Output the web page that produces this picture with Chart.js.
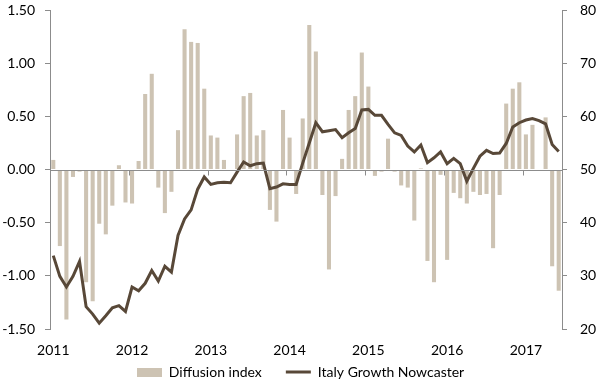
<!DOCTYPE html>
<html>
<head>
<meta charset="utf-8">
<script src="https://cdn.jsdelivr.net/npm/chart.js"></script>
<style>
    html, body { margin: 0; padding: 0; background: #fff; }
    #wrap { width: 601px; height: 384px; }
</style>
</head>
<body>
<div id="wrap"><canvas id="nowcastChart" width="601" height="384"></canvas></div>
<script>
// Monthly data, Jan 2011 - Jun 2017
const years = ["2011", "2012", "2013", "2014", "2015", "2016", "2017"];
const monthsInLastYear = 6;

const diffusionIndex = [
    0.09, -0.72, -1.41, -0.07, -0.02, -1.06, -1.24, -0.51, -0.61, -0.34, 0.04, -0.31,
    -0.32, 0.08, 0.71, 0.90, -0.17, -0.41, -0.21, 0.37, 1.32, 1.20, 1.19, 0.76,
    0.32, 0.30, 0.09, 0, 0.33, 0.69, 0.72, 0.32, 0.37, -0.38, -0.49, 0.56,
    0.30, -0.23, 0.48, 1.36, 1.11, -0.24, -0.94, -0.25, 0.10, 0.56, 0.69, 1.10,
    0.78, -0.06, -0.02, 0.29, -0.02, -0.15, -0.17, -0.48, 0.01, -0.86, -1.06, -0.05,
    -0.85, -0.22, -0.27, -0.32, -0.21, -0.24, -0.23, -0.74, -0.24, 0.62, 0.76, 0.82,
    0.33, 0.42, 0, 0.49, -0.91, -1.14,
];

const nowcaster = [
    33.8, 29.9, 27.9, 29.9, 32.7, 24.2, 22.8, 21.1, 22.5, 24.0, 24.4, 23.3,
    27.9, 27.2, 28.6, 31.0, 29.0, 31.8, 30.7, 37.6, 40.7, 42.4, 46.3, 48.6,
    47.2, 47.5, 47.6, 47.5, 49.5, 51.4, 50.7, 51.1, 51.2, 46.4, 46.7, 47.3,
    47.2, 47.2, 51.2, 55.0, 58.8, 57.1, 57.3, 57.5, 56.0, 56.9, 57.7, 61.2,
    61.3, 60.2, 60.2, 58.5, 56.9, 56.4, 54.4, 53.3, 54.6, 51.3, 52.2, 53.3,
    51.1, 52.1, 51.1, 47.8, 50.2, 52.5, 53.6, 53.0, 53.1, 54.9, 58.0, 58.8,
    59.3, 59.6, 59.2, 58.6, 54.7, 53.4,
];

const leftTicks = [-1.5, -1.0, -0.5, 0, 0.5, 1.0, 1.5];
const rightTicks = [20, 30, 40, 50, 60, 70, 80];

// one category per month, label shown only on January
const categories = [];
years.forEach((y, yi) => {
    const n = yi === years.length - 1 ? monthsInLastYear : 12;
    for (let m = 1; m <= n; m++) categories.push(y + "-" + m);
});

const barColor = "#cdc3b3";
const lineColor = "#584838";
const axisColor = "#8c8c8c";

// legend swatch for the bars
const swatch = document.createElement("canvas");
swatch.width = 25;
swatch.height = 9;
const sctx = swatch.getContext("2d");
sctx.fillStyle = barColor;
sctx.fillRect(0, 0, 25, 9);

// zero line and year tick marks on it
const zeroAxis = {
    id: "zeroAxis",
    afterDatasetsDraw(chart) {
        const { ctx, chartArea, scales } = chart;
        const y0 = Math.round(scales.y.getPixelForValue(0)) + 0.5;
        ctx.save();
        ctx.strokeStyle = axisColor;
        ctx.lineWidth = 1;
        ctx.beginPath();
        ctx.moveTo(chartArea.left, y0);
        ctx.lineTo(chartArea.right, y0);
        for (let i = 12; i < categories.length; i += 12) {
            const x = Math.round((scales.x.getPixelForValue(i - 1) + scales.x.getPixelForValue(i)) / 2) + 0.5;
            ctx.moveTo(x, y0);
            ctx.lineTo(x, y0 + 5);
        }
        ctx.stroke();
        ctx.restore();
    },
};

// fixed axis sizes so the plot area matches the original
function fixWidth(w) {
    return (s) => {
        s.width = w;
        s.paddingTop = 0;
        s.paddingBottom = 0;
    };
}

Chart.defaults.font.family = "Lato, 'Open Sans', sans-serif";
Chart.defaults.font.size = 14;
Chart.defaults.color = "#000";

const ctx = document.getElementById("nowcastChart").getContext("2d");
new Chart(ctx, {
    type: "bar",
    data: {
        labels: categories,
        datasets: [
            {
                type: "line",
                label: "Italy Growth Nowcaster",
                data: nowcaster,
                yAxisID: "y1",
                borderColor: lineColor,
                borderWidth: 3,
                pointRadius: 0,
                tension: 0,
                order: 0,
            },
            {
                type: "bar",
                label: "Diffusion index",
                data: diffusionIndex,
                yAxisID: "y",
                backgroundColor: barColor,
                categoryPercentage: 1,
                barPercentage: 0.62,
                order: 1,
            },
        ],
    },
    plugins: [zeroAxis],
    options: {
        responsive: false,
        animation: false,
        layout: { padding: { left: 0, right: 0, top: 10, bottom: -5 } },
        plugins: {
            tooltip: { enabled: false },
            legend: {
                position: "bottom",
                labels: {
                    usePointStyle: true,
                    pointStyleWidth: 25,
                    padding: 24,
                    generateLabels: () => [
                        { text: "Diffusion index", pointStyle: swatch, fillStyle: barColor, strokeStyle: barColor, lineWidth: 0, datasetIndex: 1 },
                        { text: "Italy Growth Nowcaster", pointStyle: "line", fillStyle: lineColor, strokeStyle: lineColor, lineWidth: 3, datasetIndex: 0 },
                    ],
                },
            },
        },
        scales: {
            x: {
                type: "category",
                position: "bottom",
                grid: { display: false, drawTicks: false },
                border: { display: false },
                ticks: {
                    autoSkip: false,
                    maxRotation: 0,
                    mirror: true, // labels are not clipped to the thin axis box
                    padding: -30,
                    callback: (v, i) => (i % 12 === 0 ? categories[i].split("-")[0] : ""),
                },
                afterFit: (s) => { s.height = 12; },
            },
            y: {
                type: "linear",
                position: "left",
                min: leftTicks[0],
                max: leftTicks[leftTicks.length - 1],
                afterBuildTicks: (s) => { s.ticks = leftTicks.map((v) => ({ value: v })); },
                grid: { drawOnChartArea: false, drawTicks: true, tickLength: 5, color: axisColor },
                border: { display: true, color: axisColor },
                ticks: { padding: 10, callback: (v) => v.toFixed(2) },
                afterFit: fixWidth(50),
            },
            y1: {
                type: "linear",
                position: "right",
                min: rightTicks[0],
                max: rightTicks[rightTicks.length - 1],
                afterBuildTicks: (s) => { s.ticks = rightTicks.map((v) => ({ value: v })); },
                grid: { drawOnChartArea: false, drawTicks: true, tickLength: 5, color: axisColor },
                border: { display: true, color: axisColor },
                ticks: { padding: 13 },
                afterFit: fixWidth(39),
            },
        },
    },
});
</script>
</body>
</html>
